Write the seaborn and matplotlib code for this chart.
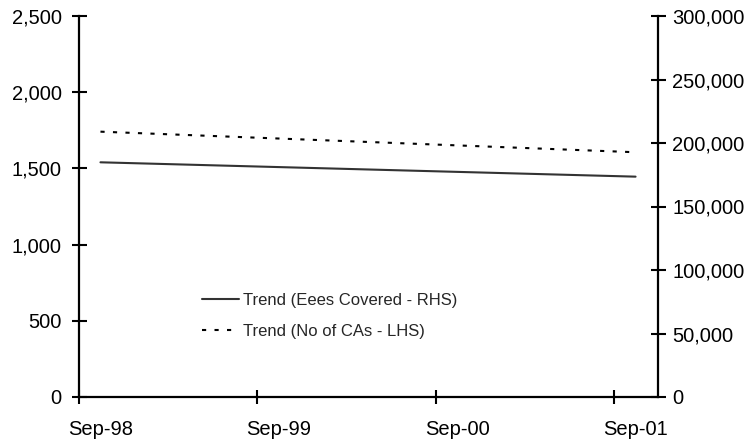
import matplotlib
matplotlib.use("Agg")
import matplotlib.pyplot as plt
import matplotlib.dates as mdates
import matplotlib.ticker as mticker
import matplotlib.transforms as mtransforms
import seaborn as sns
import pandas as pd

# Data (trend lines)
dates = ["1998-10-15", "2001-10-16"]
trend_eees_rhs = [184800, 173500]
trend_cas_lhs = [1741, 1606]
x_ticks = ["1998-09-01", "1999-09-01", "2000-09-01", "2001-09-01"]
left_ticks = [0, 500, 1000, 1500, 2000, 2500]
right_ticks = [0, 50000, 100000, 150000, 200000, 250000, 300000]

df = pd.DataFrame({
    "date": pd.to_datetime(dates),
    "eees": trend_eees_rhs,
    "cas": trend_cas_lhs,
})

sns.set_style("white")
plt.rcParams["font.family"] = ["Liberation Sans", "DejaVu Sans"]

fig = plt.figure(figsize=(7.48, 4.46), dpi=100)
ax = fig.add_axes([79/748, 1-397/446, 579/748, 381/446])
ax2 = ax.twinx()

sns.lineplot(data=df, x="date", y="cas", ax=ax, color="black", lw=1.5,
             linestyle=(0, (2, 4)), label="Trend (No of CAs - LHS)", legend=False)
sns.lineplot(data=df, x="date", y="eees", ax=ax2, color="#333333", lw=1.5,
             label="Trend (Eees Covered - RHS)", legend=False)

ax.set_xlim(pd.Timestamp("1998-09-01"), pd.Timestamp("2001-12-01"))
ax.set_ylim(0, 2500)
ax2.set_ylim(0, 300000)
ax.set_yticks(left_ticks)
ax2.set_yticks(right_ticks)
ax.set_xticks(pd.to_datetime(x_ticks))
ax.xaxis.set_major_formatter(mdates.DateFormatter("%b-%y"))
ax.yaxis.set_major_formatter(mticker.FuncFormatter(lambda v, p: f"{int(v):,}"))
ax2.yaxis.set_major_formatter(mticker.FuncFormatter(lambda v, p: f"{int(v):,}"))
for a in (ax, ax2):
    a.set_xlabel("")
    a.set_ylabel("")
    a.grid(False)
    a.spines["top"].set_visible(False)
    for s in ("left", "right", "bottom"):
        a.spines[s].set_linewidth(1.6)
        a.spines[s].set_color("black")

ax.spines["right"].set_visible(False)
ax2.spines["left"].set_visible(False)
ax2.spines["bottom"].set_visible(False)

ax.tick_params(axis="y", direction="inout", length=10.8, width=1.5, labelsize=14.5,
               pad=7, left=True, colors="black")
ax.tick_params(axis="x", direction="inout", length=10.5, width=1.5, labelsize=14.5,
               pad=11, bottom=True, colors="black")
ax2.tick_params(axis="y", direction="inout", length=10.8, width=1.5, labelsize=14.5,
                pad=5, right=True, colors="black")

offset = mtransforms.ScaledTranslation(0.22, 0, fig.dpi_scale_trans)
for lab in ax.get_xticklabels():
    lab.set_transform(lab.get_transform() + offset)

h1, l1 = ax.get_legend_handles_labels()
h2, l2 = ax2.get_legend_handles_labels()
ax2.legend(h2 + h1, l2 + l1, loc="upper left", bbox_to_anchor=(0.2124, 0.274),
           frameon=False, prop={"size": 12}, handlelength=2.2, handletextpad=0.25,
           labelspacing=1.0, borderpad=0, borderaxespad=0)

fig.savefig("out.png", dpi=100)
